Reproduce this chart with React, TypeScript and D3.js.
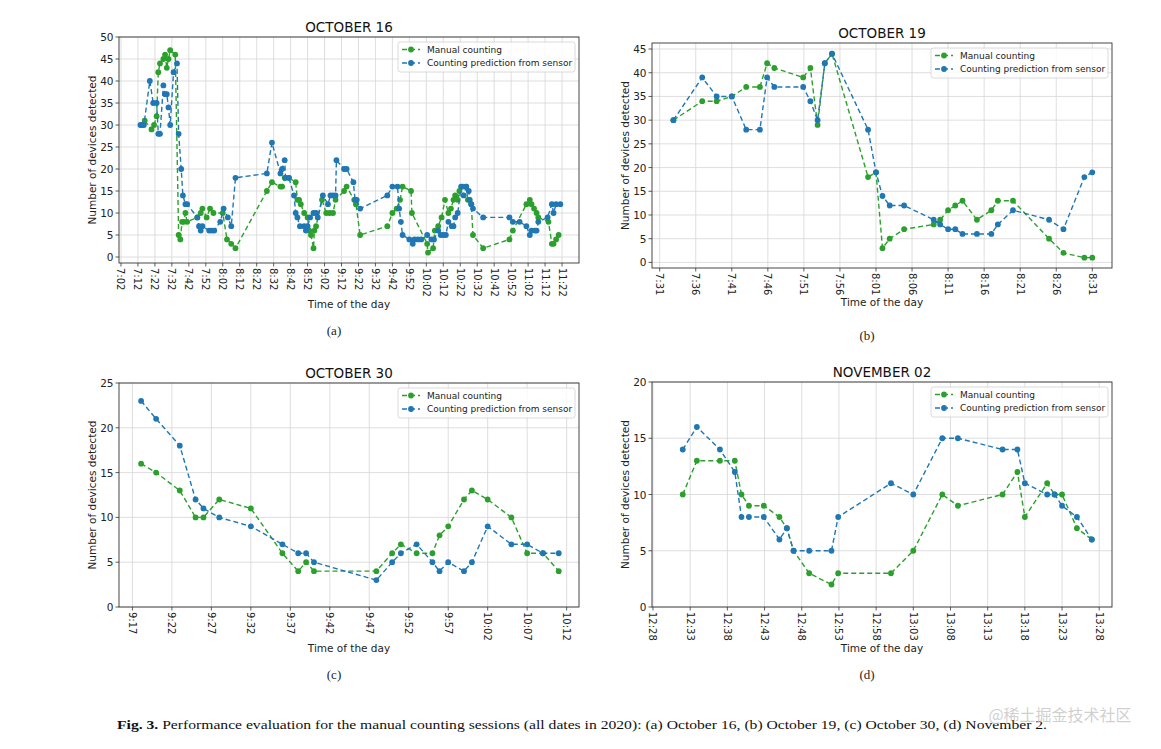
import * as d3 from 'd3'

type Pt = [string, number]

// ---- October 16 ----
const oct16Manual: Pt[] = [
  ['7:16:00', 31], ['7:20:00', 29], ['7:21:30', 30], ['7:23:00', 32], ['7:24:00', 42], ['7:25:00', 44],
  ['7:27:00', 45], ['7:28:00', 46], ['7:29:00', 43], ['7:30:00', 45], ['7:31:00', 47], ['7:34:00', 46],
  ['7:36:00', 5], ['7:37:00', 4], ['7:38:00', 8], ['7:39:00', 8], ['7:40:00', 10], ['7:41:00', 8],
  ['7:47:00', 9], ['7:49:00', 10], ['7:50:00', 11], ['7:52:30', 9], ['7:54:30', 11], ['7:56:30', 10],
  ['8:02:00', 10], ['8:04:30', 4], ['8:07:00', 3], ['8:09:30', 2], ['8:28:00', 15], ['8:31:00', 17],
  ['8:36:00', 16], ['8:37:00', 16], ['8:38:30', 18], ['8:41:00', 18], ['8:45:00', 17], ['8:46:00', 13],
  ['8:47:00', 13], ['8:48:00', 12], ['8:50:00', 10], ['8:52:00', 9], ['8:53:00', 6], ['8:54:00', 5],
  ['8:55:30', 2], ['8:56:00', 6], ['8:57:00', 7], ['9:00:30', 13], ['9:03:00', 10], ['9:05:00', 10],
  ['9:07:00', 10], ['9:08:30', 13], ['9:13:30', 15], ['9:15:00', 16], ['9:19:30', 13], ['9:20:30', 12],
  ['9:23:00', 5], ['9:39:00', 7], ['9:42:00', 10], ['9:44:30', 11], ['9:46:30', 13], ['9:48:00', 16],
  ['9:53:00', 15], ['9:53:30', 10], ['10:02:30', 3], ['10:03:00', 1], ['10:06:00', 2], ['10:07:00', 6],
  ['10:09:00', 7], ['10:11:00', 9], ['10:13:00', 13], ['10:15:00', 10], ['10:16:30', 11], ['10:18:00', 13],
  ['10:19:00', 14], ['10:20:30', 13], ['10:21:30', 15], ['10:23:30', 16], ['10:25:30', 16], ['10:26:30', 13],
  ['10:27:30', 13], ['10:28:30', 12], ['10:29:30', 5], ['10:35:30', 2], ['10:51:00', 4], ['10:53:00', 6],
  ['11:01:00', 12], ['11:03:00', 13], ['11:04:00', 12], ['11:05:30', 11], ['11:07:00', 10], ['11:08:00', 9],
  ['11:14:00', 8], ['11:16:00', 3], ['11:17:00', 3], ['11:18:30', 4], ['11:20:00', 5],
]
const oct16Sensor: Pt[] = [
  ['7:13:30', 30], ['7:14:30', 30], ['7:15:30', 30], ['7:19:00', 40], ['7:21:00', 35], ['7:23:00', 35],
  ['7:24:00', 28], ['7:25:00', 28], ['7:27:00', 39], ['7:28:00', 37], ['7:29:00', 37], ['7:30:00', 34],
  ['7:31:00', 30], ['7:33:00', 42], ['7:35:00', 44], ['7:36:00', 28], ['7:37:30', 20], ['7:38:30', 14],
  ['7:40:00', 12], ['7:41:00', 12], ['7:47:00', 9], ['7:48:00', 7], ['7:49:00', 6], ['7:50:00', 7],
  ['7:54:00', 6], ['7:55:30', 6], ['7:57:00', 6], ['8:00:30', 8], ['8:02:30', 11], ['8:05:00', 9],
  ['8:07:00', 7], ['8:09:30', 18], ['8:28:00', 19], ['8:31:00', 26], ['8:36:00', 19], ['8:37:00', 20],
  ['8:38:30', 22], ['8:39:00', 18], ['8:41:00', 18], ['8:44:00', 14], ['8:45:00', 10], ['8:46:00', 9],
  ['8:47:30', 7], ['8:50:00', 7], ['8:51:00', 6], ['8:52:00', 7], ['8:53:30', 9], ['8:55:30', 10],
  ['8:57:00', 10], ['8:58:00', 9], ['9:01:00', 14], ['9:04:00', 12], ['9:05:30', 14], ['9:07:00', 14],
  ['9:08:30', 14], ['9:09:00', 22], ['9:13:30', 20], ['9:15:00', 20], ['9:19:00', 17], ['9:20:00', 13],
  ['9:21:00', 13], ['9:23:00', 11], ['9:39:00', 14], ['9:42:00', 16], ['9:45:00', 16], ['9:46:00', 11],
  ['9:47:00', 8], ['9:48:00', 5], ['9:52:00', 4], ['9:54:00', 3], ['9:55:00', 4], ['9:57:00', 4],
  ['9:59:00', 4], ['10:02:30', 5], ['10:05:00', 4], ['10:06:30', 4], ['10:09:00', 6], ['10:10:30', 5],
  ['10:12:00', 5], ['10:13:30', 5], ['10:15:00', 8], ['10:17:00', 7], ['10:18:00', 7], ['10:19:00', 9],
  ['10:20:30', 10], ['10:22:30', 16], ['10:24:00', 14], ['10:25:30', 16], ['10:27:00', 15], ['10:27:30', 13],
  ['10:28:30', 12], ['10:29:30', 11], ['10:35:30', 9], ['10:51:00', 9], ['10:53:00', 8], ['10:57:00', 8],
  ['11:01:00', 7], ['11:03:00', 5], ['11:04:00', 6], ['11:06:00', 6], ['11:07:00', 6], ['11:08:00', 8],
  ['11:13:30', 9], ['11:16:00', 12], ['11:17:00', 10], ['11:18:30', 12], ['11:21:00', 12],
]
const oct16XTicks = ['7:02', '7:12', '7:22', '7:32', '7:42', '7:52', '8:02', '8:12', '8:22', '8:32', '8:42',
  '8:52', '9:02', '9:12', '9:22', '9:32', '9:42', '9:52', '10:02', '10:12', '10:22', '10:32', '10:42',
  '10:52', '11:02', '11:12', '11:22']
const oct16YTicks = [0, 5, 10, 15, 20, 25, 30, 35, 40, 45, 50]

// ---- October 19 ----
const oct19Manual: Pt[] = [
  ['7:32:54', 30], ['7:36:54', 34], ['7:38:54', 34], ['7:41:00', 35], ['7:43:00', 37], ['7:44:54', 37],
  ['7:45:54', 42], ['7:46:54', 41], ['7:50:54', 39], ['7:51:54', 41], ['7:52:54', 29], ['7:53:54', 42],
  ['7:54:54', 44], ['7:59:54', 18], ['8:01:00', 19], ['8:01:54', 3], ['8:02:54', 5], ['8:04:54', 7],
  ['8:09:00', 8], ['8:09:54', 9], ['8:11:00', 11], ['8:12:00', 12], ['8:13:00', 13], ['8:15:00', 9],
  ['8:17:00', 11], ['8:17:54', 13], ['8:20:00', 13], ['8:25:00', 5], ['8:27:00', 2], ['8:29:54', 1],
  ['8:31:00', 1],
]
const oct19Sensor: Pt[] = [
  ['7:32:54', 30], ['7:36:54', 39], ['7:38:54', 35], ['7:41:00', 35], ['7:43:00', 28], ['7:44:54', 28],
  ['7:45:54', 39], ['7:46:54', 37], ['7:50:54', 37], ['7:51:54', 34], ['7:52:54', 30], ['7:53:54', 42],
  ['7:54:54', 44], ['7:59:54', 28], ['8:01:00', 19], ['8:01:54', 14], ['8:02:54', 12], ['8:04:54', 12],
  ['8:09:00', 9], ['8:09:54', 8], ['8:11:00', 7], ['8:12:00', 7], ['8:13:00', 6], ['8:15:00', 6],
  ['8:17:00', 6], ['8:17:54', 8], ['8:20:00', 11], ['8:25:00', 9], ['8:27:00', 7], ['8:29:54', 18],
  ['8:31:00', 19],
]
const oct19XTicks = ['7:31', '7:36', '7:41', '7:46', '7:51', '7:56', '8:01', '8:06', '8:11', '8:16', '8:21', '8:26', '8:31']
const oct19YTicks = [0, 5, 10, 15, 20, 25, 30, 35, 40, 45]

// ---- October 30 ----
const oct30Manual: Pt[] = [
  ['9:18:06', 16], ['9:20:00', 15], ['9:23:00', 13], ['9:25:00', 10], ['9:26:00', 10], ['9:28:00', 12],
  ['9:32:00', 11], ['9:36:00', 6], ['9:38:00', 4], ['9:39:00', 5], ['9:40:00', 4], ['9:47:54', 4],
  ['9:49:54', 6], ['9:51:00', 7], ['9:53:00', 6], ['9:55:00', 6], ['9:55:54', 8], ['9:57:00', 9],
  ['9:59:00', 12], ['10:00:00', 13], ['10:02:00', 12], ['10:05:00', 10], ['10:07:00', 6], ['10:09:00', 6],
  ['10:11:00', 4],
]
const oct30Sensor: Pt[] = [
  ['9:18:06', 23], ['9:20:00', 21], ['9:23:00', 18], ['9:25:00', 12], ['9:26:00', 11], ['9:28:00', 10],
  ['9:32:00', 9], ['9:36:00', 7], ['9:38:00', 6], ['9:39:00', 6], ['9:40:00', 5], ['9:47:54', 3],
  ['9:49:54', 5], ['9:51:00', 6], ['9:53:00', 7], ['9:55:00', 5], ['9:55:54', 4], ['9:57:00', 5],
  ['9:59:00', 4], ['10:00:00', 5], ['10:02:00', 9], ['10:05:00', 7], ['10:07:00', 7], ['10:09:00', 6],
  ['10:11:00', 6],
]
const oct30XTicks = ['9:17', '9:22', '9:27', '9:32', '9:37', '9:42', '9:47', '9:52', '9:57', '10:02', '10:07', '10:12']
const oct30YTicks = [0, 5, 10, 15, 20, 25]

// ---- November 02 ----
const nov02Manual: Pt[] = [
  ['12:32:00', 10], ['12:33:54', 13], ['12:37:00', 13], ['12:39:00', 13], ['12:39:54', 10], ['12:40:54', 9],
  ['12:42:54', 9], ['12:45:00', 8], ['12:46:00', 7], ['12:46:54', 5], ['12:49:00', 3], ['12:52:00', 2],
  ['12:52:54', 3], ['13:00:00', 3], ['13:03:00', 5], ['13:06:54', 10], ['13:09:00', 9], ['13:15:00', 10],
  ['13:17:00', 12], ['13:18:00', 8], ['13:21:00', 11], ['13:22:00', 10], ['13:23:00', 10], ['13:25:00', 7],
  ['13:27:00', 6],
]
const nov02Sensor: Pt[] = [
  ['12:32:00', 14], ['12:33:54', 16], ['12:37:00', 14], ['12:39:00', 12], ['12:39:54', 8], ['12:40:54', 8],
  ['12:42:54', 8], ['12:45:00', 6], ['12:46:00', 7], ['12:46:54', 5], ['12:49:00', 5], ['12:52:00', 5],
  ['12:52:54', 8], ['13:00:00', 11], ['13:03:00', 10], ['13:06:54', 15], ['13:09:00', 15], ['13:15:00', 14],
  ['13:17:00', 14], ['13:18:00', 11], ['13:21:00', 10], ['13:22:00', 10], ['13:23:00', 9], ['13:25:00', 8],
  ['13:27:00', 6],
]
const nov02XTicks = ['12:28', '12:33', '12:38', '12:43', '12:48', '12:53', '12:58', '13:03', '13:08', '13:13', '13:18', '13:23', '13:28']
const nov02YTicks = [0, 5, 10, 15, 20]

const seriesNames = ['Manual counting', 'Counting prediction from sensor']
const GREEN = '#2ca02c'
const BLUE = '#1f77b4'
const FONT = "'DejaVu Sans', sans-serif"
const TICK_FS = 10

const parseTime = d3.timeParse('%H:%M:%S')
const parseTick = d3.timeParse('%H:%M')

// rough DejaVu Sans width of a tick label like "10:02"
const labelWidth = (s: string) =>
  s.split('').reduce((w, c) => w + (c === ':' ? 0.337 : 0.636), 0) * TICK_FS

type PanelProps = {
  title: string
  tag: string
  manual: Pt[]
  sensor: Pt[]
  xTicks: string[]
  xDomain: [string, string]
  yTicks: number[]
  yDomain: [number, number]
  left: number
  top: number
  right: number
  bottom: number
  ylabelX: number
}

function Panel(p: PanelProps) {
  const x = d3.scaleTime()
    .domain([parseTime(p.xDomain[0])!, parseTime(p.xDomain[1])!])
    .range([p.left, p.right])
  const y = d3.scaleLinear().domain(p.yDomain).range([p.bottom, p.top])
  const line = d3.line<Pt>()
    .x((d) => x(parseTime(d[0])!))
    .y((d) => y(d[1]))
  const cx = (p.left + p.right) / 2
  const cy = (p.top + p.bottom) / 2
  const maxTickW = d3.max(p.xTicks, labelWidth) ?? 0
  const xlabelY = p.bottom + 5 + maxTickW + 11

  const series = [
    { name: seriesNames[0], data: p.manual, color: GREEN },
    { name: seriesNames[1], data: p.sensor, color: BLUE },
  ]

  const legW = 177
  const legX = p.right - 4 - legW
  const legY = p.top + 5

  return (
    <g fontFamily={FONT}>
      {/* grid */}
      {p.xTicks.map((t) => {
        const xx = x(parseTick(t)!)
        return <line key={'gx' + t} x1={xx} x2={xx} y1={p.top} y2={p.bottom} stroke="#d6d6d6" strokeWidth={0.8} />
      })}
      {p.yTicks.map((t) => (
        <line key={'gy' + t} x1={p.left} x2={p.right} y1={y(t)} y2={y(t)} stroke="#d6d6d6" strokeWidth={0.8} />
      ))}

      {/* series */}
      {series.map((s) => (
        <g key={s.name}>
          <path d={line(s.data) ?? ''} fill="none" stroke={s.color} strokeWidth={1.4} strokeDasharray="5 3" />
          {s.data.map((d, i) => (
            <circle key={i} cx={x(parseTime(d[0])!)} cy={y(d[1])} r={2.9} fill={s.color} />
          ))}
        </g>
      ))}

      {/* frame */}
      <rect x={p.left} y={p.top} width={p.right - p.left} height={p.bottom - p.top} fill="none" stroke="#333" strokeWidth={0.9} />

      {/* y axis */}
      {p.yTicks.map((t) => (
        <g key={'yt' + t}>
          <line x1={p.left - 3.5} x2={p.left} y1={y(t)} y2={y(t)} stroke="#333" strokeWidth={0.8} />
          <text x={p.left - 5.5} y={y(t)} textAnchor="end" dominantBaseline="central" fontSize={TICK_FS + 0.5} fill="#222">{t}</text>
        </g>
      ))}

      {/* x axis */}
      {p.xTicks.map((t) => {
        const xx = x(parseTick(t)!)
        return (
          <g key={'xt' + t}>
            <line x1={xx} x2={xx} y1={p.bottom} y2={p.bottom + 3.5} stroke="#333" strokeWidth={0.8} />
            <text transform={`translate(${xx},${p.bottom + 5}) rotate(90)`} dominantBaseline="central" fontSize={TICK_FS} fill="#222">{t}</text>
          </g>
        )
      })}

      <text x={cx} y={p.top - 5} textAnchor="middle" fontSize={13.5} fill="#111">{p.title}</text>
      <text x={cx} y={xlabelY} textAnchor="middle" fontSize={10.5} fill="#222">Time of the day</text>
      <text transform={`translate(${p.ylabelX},${cy}) rotate(-90)`} textAnchor="middle" dominantBaseline="central" fontSize={10.5} fill="#222">
        Number of devices detected
      </text>

      {/* legend */}
      <rect x={legX} y={legY} width={legW} height={30} rx={2.5} fill="#fff" fillOpacity={0.8} stroke="#d0d0d0" strokeWidth={0.8} />
      {series.map((s, i) => {
        const ly = legY + 7.5 + i * 13.5
        return (
          <g key={'lg' + s.name}>
            <line x1={legX + 4} x2={legX + 22} y1={ly} y2={ly} stroke={s.color} strokeWidth={1.4} strokeDasharray="5 3" />
            <circle cx={legX + 13} cy={ly} r={2.9} fill={s.color} />
            <text x={legX + 29} y={ly} dominantBaseline="central" fontSize={9} fill="#222">{s.name}</text>
          </g>
        )
      })}

      <text x={cx - 15} y={p.bottom + 72} textAnchor="middle" fontSize={13} fontFamily="'Liberation Serif', serif" fill="#222">{p.tag}</text>
    </g>
  )
}

export default function App() {
  return (
    <svg width={1161} height={749} style={{ position: 'absolute', left: 0, top: 0, background: '#fff' }}>
      <rect width={1161} height={749} fill="#fff" />
      <Panel title="OCTOBER 16" tag="(a)" manual={oct16Manual} sensor={oct16Sensor}
        xTicks={oct16XTicks} xDomain={['7:00:50', '11:32:00']} yTicks={oct16YTicks} yDomain={[-1.36, 50]}
        left={119} top={37} right={579} bottom={263} ylabelX={92} />
      <Panel title="OCTOBER 19" tag="(b)" manual={oct19Manual} sensor={oct19Sensor}
        xTicks={oct19XTicks} xDomain={['7:29:56', '8:33:44']} yTicks={oct19YTicks} yDomain={[-1.18, 46.27]}
        left={652} top={43} right={1112} bottom={268} ylabelX={625} />
      <Panel title="OCTOBER 30" tag="(c)" manual={oct30Manual} sensor={oct30Sensor}
        xTicks={oct30XTicks} xDomain={['9:15:18', '10:13:34']} yTicks={oct30YTicks} yDomain={[0, 25]}
        left={119} top={383} right={579} bottom={607} ylabelX={92} />
      <Panel title="NOVEMBER 02" tag="(d)" manual={nov02Manual} sensor={nov02Sensor}
        xTicks={nov02XTicks} xDomain={['12:27:52', '13:29:43']} yTicks={nov02YTicks} yDomain={[0, 20]}
        left={652} top={382} right={1112} bottom={607} ylabelX={625} />

      <text x={117} y={729} fontSize={13.5} fontFamily="'Liberation Serif', serif" fill="#111" textLength={930} lengthAdjust="spacingAndGlyphs">
        <tspan fontWeight="bold">Fig. 3.</tspan>
        {'  Performance evaluation for the manual counting sessions (all dates in 2020): (a) October 16, (b) October 19, (c) October 30, (d) November 2.'}
      </text>
      <text x={1060} y={721} textAnchor="middle" fontSize={16} fill="#c8c8c8" fillOpacity={0.85} fontFamily="'Noto Sans CJK SC', sans-serif">@稀土掘金技术社区</text>
    </svg>
  )
}
